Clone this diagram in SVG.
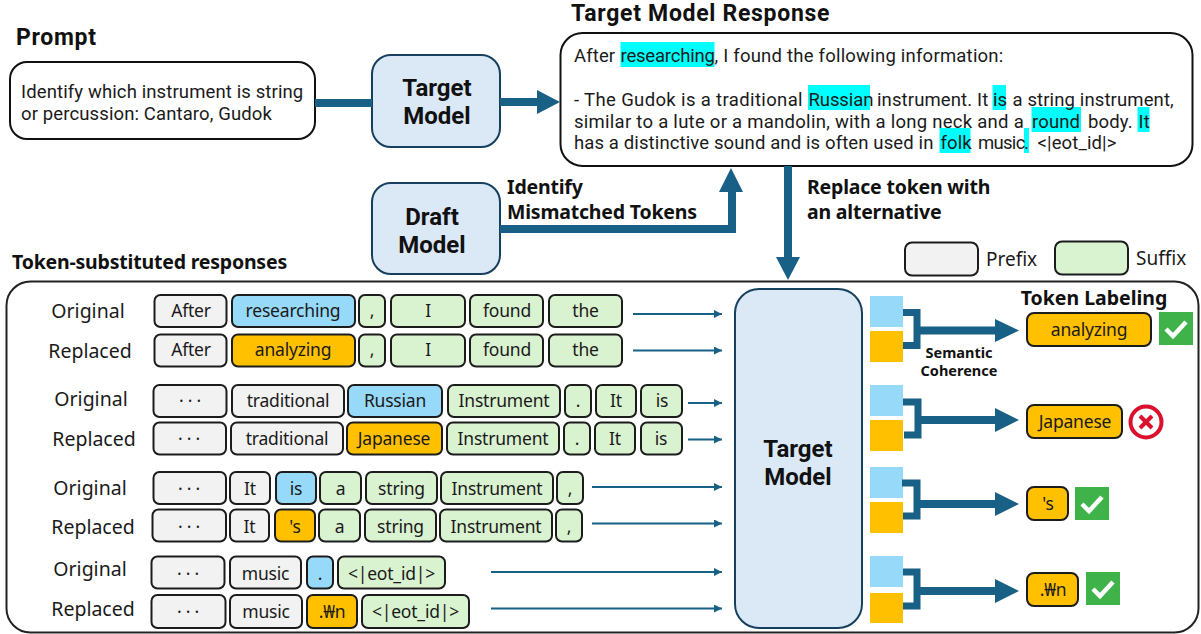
<svg xmlns="http://www.w3.org/2000/svg" width="1201" height="634" viewBox="0 0 1201 634">
<style>
text{font-family:"Noto Sans","Open Sans","DejaVu Sans",sans-serif;fill:#1a1a1a}
.b{font-weight:700;fill:#111}
.h{font-family:Roboto,"Noto Sans",sans-serif;font-size:23px;font-weight:700;fill:#111;letter-spacing:.7px}
.s{font-size:19.500px;font-weight:700;fill:#111;letter-spacing:-.2px}
.m{font-family:Roboto,"Noto Sans",sans-serif;font-size:24px;font-weight:700;fill:#111;text-anchor:middle}
.r{font-family:Roboto,"Noto Sans",sans-serif;font-size:18.500px;letter-spacing:.12px}
.l{font-size:19.500px;text-anchor:middle}
.t{font-size:17.500px;text-anchor:middle;letter-spacing:-.2px}
.tk{stroke:#1c1c1c;stroke-width:2}
.g{fill:#f2f2f2}.e{fill:#d9f2d0}.o{fill:#ffc000}.u{fill:#97d9f8}
.mod{fill:#dbe8f6;stroke:#17405f;stroke-width:2}
.hl{fill:#00ffff}
.th{fill:none;stroke:#186085;stroke-width:8}
.thin{stroke:#186085;stroke-width:2;fill:none}
.hd{fill:#186085}
.br{fill:none;stroke:#186085;stroke-width:7}
.ck{fill:#3fb34a}
.cm{fill:none;stroke:#fff;stroke-width:4.500}
</style>
<defs>
<marker id="a" markerUnits="userSpaceOnUse" markerWidth="9" markerHeight="9" refX="8" refY="4" orient="auto"><path d="M0 0L8 4L0 8Z" fill="#186085"/></marker>
</defs>

<g id="prompt">
<text class="h" x="16" y="45">Prompt</text>
<rect x="10" y="62" width="305" height="77" rx="17" fill="#fff" stroke="#111" stroke-width="2"/>
<text class="r" x="21" y="98">Identify which instrument is string</text>
<text class="r" x="21" y="120">or percussion: Cantaro, Gudok</text>
</g>

<g id="target-model-top"><rect class="mod" x="372" y="55" width="128" height="92" rx="19"/>
<text class="m" x="437" y="96">Target</text><text class="m" x="437" y="124">Model</text></g>

<g id="draft-model"><rect class="mod" x="372" y="183" width="128" height="91" rx="19"/>
<text class="m" x="432" y="225">Draft</text><text class="m" x="432" y="253">Model</text></g>

<g id="response">
<text class="h" x="571" y="21">Target Model Response</text>
<rect x="560.500" y="33" width="632" height="133" rx="22" fill="#fff" stroke="#111" stroke-width="2"/>
<rect class="hl" x="620.500" y="42" width="94" height="25"/>
<rect class="hl" x="808" y="85" width="62" height="25"/>
<rect class="hl" x="992.500" y="85" width="13.500" height="25"/>
<rect class="hl" x="1031.500" y="107" width="49.500" height="25"/>
<rect class="hl" x="1137.500" y="107" width="12" height="25"/>
<rect class="hl" x="939.500" y="128" width="31" height="25"/>
<rect class="hl" x="1024" y="128" width="5" height="25"/>
<text class="r" x="574" y="62">After <tspan x="620.500" letter-spacing="-.2">researching</tspan><tspan x="714.500" letter-spacing=".22">, I found the following information:</tspan></text>
<text class="r" x="574" y="106" letter-spacing=".36" style="letter-spacing:.36px">- The Gudok is a traditional <tspan x="808.500" style="letter-spacing:-.1px">Russian</tspan> <tspan x="877" style="letter-spacing:.12px">instrument. It</tspan> <tspan x="993" style="letter-spacing:.12px">is</tspan> <tspan x="1012.500" style="letter-spacing:.12px">a string instrument,</tspan></text>
<text class="r" x="574" y="128" style="letter-spacing:.27px">similar to a lute or a mandolin, with a long neck and a <tspan x="1032" style="letter-spacing:.12px">round</tspan> <tspan x="1088" style="letter-spacing:.12px">body.</tspan> <tspan x="1138.500">It</tspan></text>
<text class="r" x="574" y="149">has a distinctive sound and is often used in <tspan x="940.500">folk</tspan> <tspan x="978" style="letter-spacing:-.7px">music</tspan><tspan x="1024">.</tspan> <tspan x="1037.500">&lt;|eot_id|&gt;</tspan></text>
</g>

<g id="labels">
<text class="s" x="507" y="194">Identify</text>
<text class="s" x="507" y="219">Mismatched Tokens</text>
<text class="s" x="807" y="194">Replace token with</text>
<text class="s" x="807" y="219">an alternative</text>
<text class="s" x="12" y="269">Token-substituted responses</text>
</g>

<g id="legend">
<rect class="g tk" x="905" y="242.500" width="73" height="33" rx="7"/><text x="986" y="266" font-size="19">Prefix</text>
<rect class="e tk" x="1055" y="241.500" width="73" height="33" rx="7"/><text x="1136" y="265" font-size="19">Suffix</text>
</g>

<g id="panel"><rect x="6.500" y="281.500" width="1192" height="351" rx="24" fill="#fff" stroke="#222" stroke-width="2"/></g>

<g id="row-1-original"><text class="l" x="88" y="318">Original</text>
<rect class="g tk" x="154.500" y="295" width="72" height="32" rx="6"/><text class="t" x="191" y="317">After</text>
<rect class="u tk" x="232" y="295" width="123" height="32" rx="6"/><text class="t" x="293" y="317">researching</text>
<rect class="e tk" x="359" y="295" width="26" height="32" rx="6"/><text class="t" x="372" y="317">,</text>
<rect class="e tk" x="391" y="295" width="74" height="32" rx="6"/><text class="t" x="428" y="317">I</text>
<rect class="e tk" x="470" y="295" width="73" height="32" rx="6"/><text class="t" x="507" y="317">found</text>
<rect class="e tk" x="549" y="295" width="73" height="32" rx="6"/><text class="t" x="585.500" y="317">the</text></g>

<g id="row-1-replaced"><text class="l" x="90" y="358">Replaced</text>
<rect class="g tk" x="154.500" y="334.500" width="72" height="32" rx="6"/><text class="t" x="191" y="356">After</text>
<rect class="o tk" x="232" y="334.500" width="123" height="32" rx="6"/><text class="t" x="293" y="356">analyzing</text>
<rect class="e tk" x="359" y="334.500" width="26" height="32" rx="6"/><text class="t" x="372" y="356">,</text>
<rect class="e tk" x="391" y="334.500" width="74" height="32" rx="6"/><text class="t" x="428" y="356">I</text>
<rect class="e tk" x="470" y="334.500" width="73" height="32" rx="6"/><text class="t" x="507" y="356">found</text>
<rect class="e tk" x="549" y="334.500" width="73" height="32" rx="6"/><text class="t" x="585.500" y="356">the</text></g>

<g id="row-2-original"><text class="l" x="91" y="406">Original</text>
<rect class="g tk" x="153.500" y="385" width="73" height="32" rx="6"/><text class="t" x="190" y="407">· · ·</text>
<rect class="g tk" x="232" y="385" width="112" height="32" rx="6"/><text class="t" x="288" y="407">traditional</text>
<rect class="u tk" x="348" y="385" width="94" height="32" rx="6"/><text class="t" x="395" y="407">Russian</text>
<rect class="e tk" x="448" y="385" width="112" height="32" rx="6"/><text class="t" x="504" y="407">Instrument</text>
<rect class="e tk" x="565" y="385" width="26" height="32" rx="6"/><text class="t" x="578" y="407">.</text>
<rect class="e tk" x="596" y="385" width="40" height="32" rx="6"/><text class="t" x="616" y="407">It</text>
<rect class="e tk" x="641" y="385" width="41" height="32" rx="6"/><text class="t" x="662" y="407">is</text></g>

<g id="row-2-replaced"><text class="l" x="94" y="446">Replaced</text>
<rect class="g tk" x="153.500" y="422.500" width="72.500" height="32" rx="6"/><text class="t" x="189" y="445">· · ·</text>
<rect class="g tk" x="231" y="422.500" width="112" height="32" rx="6"/><text class="t" x="287" y="445">traditional</text>
<rect class="o tk" x="347" y="422.500" width="95" height="32" rx="6"/><text class="t" x="394" y="445">Japanese</text>
<rect class="e tk" x="447" y="422.500" width="112" height="32" rx="6"/><text class="t" x="503" y="445">Instrument</text>
<rect class="e tk" x="564" y="422.500" width="26" height="32" rx="6"/><text class="t" x="577" y="445">.</text>
<rect class="e tk" x="595" y="422.500" width="40" height="32" rx="6"/><text class="t" x="615" y="445">It</text>
<rect class="e tk" x="641" y="422.500" width="41" height="32" rx="6"/><text class="t" x="661" y="445">is</text></g>

<g id="row-3-original"><text class="l" x="90" y="495">Original</text>
<rect class="g tk" x="153.500" y="472" width="72.500" height="32" rx="6"/><text class="t" x="189" y="495">· · ·</text>
<rect class="g tk" x="230" y="472" width="40" height="32" rx="6"/><text class="t" x="250" y="495">It</text>
<rect class="u tk" x="276" y="472" width="40" height="32" rx="6"/><text class="t" x="296" y="495">is</text>
<rect class="e tk" x="320" y="472" width="41" height="32" rx="6"/><text class="t" x="340.500" y="495">a</text>
<rect class="e tk" x="366" y="472" width="71" height="32" rx="6"/><text class="t" x="401.500" y="495">string</text>
<rect class="e tk" x="441" y="472" width="112" height="32" rx="6"/><text class="t" x="497" y="495">Instrument</text>
<rect class="e tk" x="557" y="472" width="26" height="32" rx="6"/><text class="t" x="570" y="495">,</text></g>

<g id="row-3-replaced"><text class="l" x="93" y="534">Replaced</text>
<rect class="g tk" x="152.500" y="509.500" width="73.500" height="32" rx="6"/><text class="t" x="189" y="533">· · ·</text>
<rect class="g tk" x="230" y="509.500" width="39" height="32" rx="6"/><text class="t" x="249.500" y="533">It</text>
<rect class="o tk" x="275" y="509.500" width="40" height="32" rx="6"/><text class="t" x="295" y="533">'s</text>
<rect class="e tk" x="319" y="509.500" width="41" height="32" rx="6"/><text class="t" x="339.500" y="533">a</text>
<rect class="e tk" x="365" y="509.500" width="71" height="32" rx="6"/><text class="t" x="400.500" y="533">string</text>
<rect class="e tk" x="440" y="509.500" width="112" height="32" rx="6"/><text class="t" x="496" y="533">Instrument</text>
<rect class="e tk" x="556" y="509.500" width="26" height="32" rx="6"/><text class="t" x="569" y="533">,</text></g>

<g id="row-4-original"><text class="l" x="90" y="576">Original</text>
<rect class="g tk" x="151.500" y="556.500" width="73" height="32" rx="6"/><text class="t" x="188" y="580">· · ·</text>
<rect class="g tk" x="230" y="556.500" width="71" height="32" rx="6"/><text class="t" x="265.500" y="580">music</text>
<rect class="u tk" x="307" y="556.500" width="26" height="32" rx="6"/><text class="t" x="320" y="580">.</text>
<rect class="e tk" x="338" y="556.500" width="107" height="32" rx="6"/><text class="t" x="391.500" y="580">&lt;|eot_id|&gt;</text></g>

<g id="row-4-replaced"><text class="l" x="93" y="616">Replaced</text>
<rect class="g tk" x="151.500" y="595" width="74" height="33" rx="6"/><text class="t" x="188" y="618">· · ·</text>
<rect class="g tk" x="230" y="595" width="72" height="33" rx="6"/><text class="t" x="266" y="618">music</text>
<rect class="o tk" x="307" y="595" width="50" height="33" rx="6"/><text class="t" x="332" y="618">.₩n</text>
<rect class="e tk" x="362" y="595" width="107" height="33" rx="6"/><text class="t" x="415.500" y="618">&lt;|eot_id|&gt;</text></g>

<g id="target-model-main"><rect class="mod" x="735" y="289" width="127" height="339" rx="24"/>
<text class="m" x="798" y="457">Target</text><text class="m" x="798" y="485">Model</text></g>

<g id="embeddings">
<rect class="u" x="870" y="296" width="33" height="31"/><rect class="o" x="870" y="331" width="33" height="31"/>
<rect class="u" x="870" y="385" width="33" height="31"/><rect class="o" x="870" y="420" width="33" height="31"/>
<rect class="u" x="870" y="467" width="33" height="31"/><rect class="o" x="870" y="502" width="33" height="31"/>
<rect class="u" x="870" y="556" width="33" height="31"/><rect class="o" x="870" y="593" width="33" height="30"/>
</g>

<g id="semantic-coherence">
<text x="959" y="358" font-size="14.500" class="b" text-anchor="middle">Semantic</text>
<text x="959" y="376" font-size="14.500" class="b" text-anchor="middle">Coherence</text>
</g>

<g id="token-labeling">
<text x="1094" y="305" font-size="19.500" class="b" text-anchor="middle">Token Labeling</text>
<rect class="o tk" x="1027" y="313" width="124" height="33" rx="7"/><text class="t" x="1089" y="336">analyzing</text>
<rect class="ck" x="1159" y="312" width="34" height="33"/><path class="cm" d="M1166 329L1173 336L1186 322"/>
<rect class="o tk" x="1027" y="405" width="95" height="33" rx="7"/><text class="t" x="1075" y="428">Japanese</text>
<circle cx="1146" cy="422" r="15.500" fill="#fff" stroke="#dc0f2d" stroke-width="4"/><path d="M1140 416L1152 428M1152 416L1140 428" stroke="#dc0f2d" stroke-width="4" fill="none"/>
<rect class="o tk" x="1027" y="487" width="41" height="33" rx="7"/><text class="t" x="1048" y="510">'s</text>
<rect class="ck" x="1075" y="487" width="34" height="33"/><path class="cm" d="M1082 504L1089 511L1102 497"/>
<rect class="o tk" x="1027" y="573" width="51" height="33" rx="7"/><text class="t" x="1053" y="596">.₩n</text>
<rect class="ck" x="1086" y="572" width="34" height="33"/><path class="cm" d="M1093 589L1100 596L1113 582"/>
</g>

<g id="connectors">
<path class="th" d="M315 103H372"/>
<path class="th" d="M500 102H538"/><path class="hd" d="M537 90L560 102L537 114Z"/>
<path class="th" d="M500 229H732V190"/><path class="hd" d="M719 192L731 168L743 192Z"/>
<path class="th" d="M788 166V258"/><path class="hd" d="M776 257H800L788 280Z"/>
<path class="thin" d="M633 314H722" marker-end="url(#a)"/>
<path class="thin" d="M633 350.500H722" marker-end="url(#a)"/>
<path class="thin" d="M688 403H722" marker-end="url(#a)"/>
<path class="thin" d="M688 439.500H722" marker-end="url(#a)"/>
<path class="thin" d="M592 487H722" marker-end="url(#a)"/>
<path class="thin" d="M592 523.500H722" marker-end="url(#a)"/>
<path class="thin" d="M491 572H722" marker-end="url(#a)"/>
<path class="thin" d="M491 608.500H722" marker-end="url(#a)"/>
<path class="br" d="M903 312.500H917V345.500H903"/>
<path class="th" d="M917 330.500H996"/><path class="hd" d="M995 319L1019 330.500L995 342Z"/>
<path class="br" d="M903 402H918V435H904"/>
<path class="th" d="M918 420H996"/><path class="hd" d="M995 408L1019 420L995 432Z"/>
<path class="br" d="M902 483H917V516H903"/>
<path class="th" d="M917 504H996"/><path class="hd" d="M995 492L1019 504L995 516Z"/>
<path class="br" d="M903 572H917V606H903"/>
<path class="th" d="M917 591H996"/><path class="hd" d="M995 579L1019 591L995 603Z"/>
</g>
</svg>
